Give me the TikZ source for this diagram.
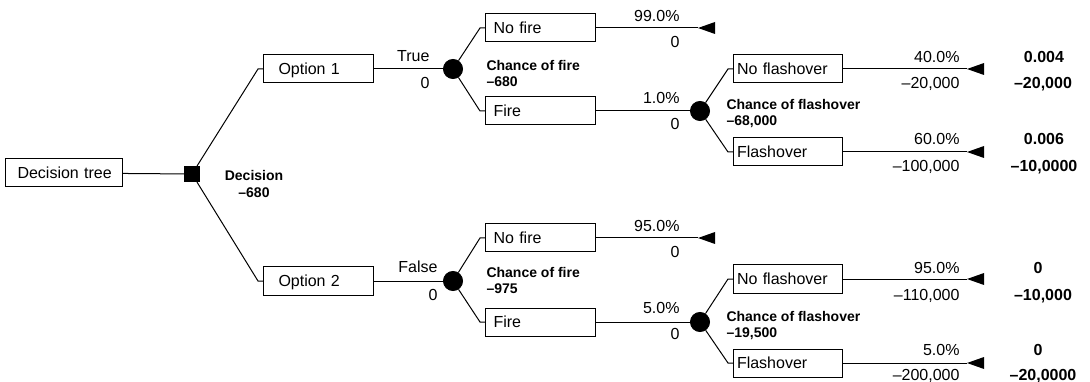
\documentclass[tikz,border=0pt]{standalone}
\usepackage{fontspec}
\setmainfont{Liberation Sans}
\begin{document}
\begin{tikzpicture}[x=1pt,y=-1pt,line width=1pt,
  every node/.style={inner sep=0pt,font=\fontsize{16}{18}\selectfont},
  box/.style={draw,rectangle,anchor=west,align=left,minimum height=28pt,
    text height=11.5pt,text depth=0pt},
  decisionbox/.style={draw,fill=black,rectangle,minimum size=15pt},
  chance/.style={draw,fill=black,circle,minimum size=19pt},
  rlab/.style={anchor=base east,yshift=-5.7pt},
  val/.style={anchor=base,yshift=-5.7pt,font=\fontsize{16}{18}\selectfont\bfseries},
  info/.style={anchor=north west,align=left,font=\fontsize{14}{16}\selectfont\bfseries},
  endtip/.style={fill=black}]
\useasboundingbox (0,0) rectangle (1090,382);

% root and decision
\node[box,inner xsep=12pt,text width=93pt] (dt) at (5,173) {Decision~tree};
\node[decisionbox] (dec) at (192,174) {};
\node[anchor=north,align=center,font=\fontsize{14}{17}\selectfont\bfseries] (decl) at (254,169.5) {Decision\\–680};

% options
\node[box,inner xsep=15pt,text width=80pt] (o1) at (263,69) {Option~1};
\node[box,inner xsep=15pt,text width=80pt] (o2) at (263,281) {Option~2};
\draw (dt) -- (dec);
\draw (dec) -- ([xshift=-5pt]o1.west) -- (o1.west);
\draw (dec) -- ([xshift=-5pt]o2.west) -- (o2.west);

% chance of fire nodes
\node[chance] (c1) at (453,69) {};
\node[chance] (c2) at (453,281) {};
\draw (o1.east) -- (c1);
\draw (o2.east) -- (c2);
\node[rlab] (t1) at (430,56) {True};
\node[rlab] (t1v) at (430,83) {0};
\node[rlab] (t2) at (438,267) {False};
\node[rlab] (t2v) at (438,295) {0};
\node[info] (cf1) at (486,60) {Chance of fire\\–680};
\node[info] (cf2) at (486,267) {Chance of fire\\–975};

% fire outcomes
\node[box,inner xsep=8pt,text width=94pt] (nf1) at (485,28) {No~fire};
\node[box,inner xsep=8pt,text width=94pt] (f1) at (485,111) {Fire};
\node[box,inner xsep=8pt,text width=94pt] (nf2) at (485,238) {No~fire};
\node[box,inner xsep=8pt,text width=94pt] (f2) at (485,322) {Fire};
\foreach \c/\b in {c1/nf1,c1/f1,c2/nf2,c2/f2}
  \draw (\c) -- ([xshift=-5pt]\b.west) -- (\b.west);

% terminal points after "No fire"
\coordinate (e1) at (698,28);
\coordinate (e2) at (698,238);
\foreach \e in {e1,e2}
  \fill[endtip] (\e) -- ++(17,-6) -- ++(0,12) -- cycle;
\draw (nf1.east) -- (e1);
\draw (nf2.east) -- (e2);
\node[rlab] (p1) at (680,16) {99.0\%};
\node[rlab] (p1v) at (680,42) {0};
\node[rlab] (p2) at (680,98) {1.0\%};
\node[rlab] (p2v) at (680,124) {0};
\node[rlab] (p3) at (680,226) {95.0\%};
\node[rlab] (p3v) at (680,252) {0};
\node[rlab] (p4) at (680,308) {5.0\%};
\node[rlab] (p4v) at (680,334) {0};

% chance of flashover nodes
\node[chance] (fc1) at (700,111) {};
\node[chance] (fc2) at (700,322) {};
\draw (f1.east) -- (fc1);
\draw (f2.east) -- (fc2);
\node[info] (cfo1) at (726,99) {Chance of flashover\\–68,000};
\node[info] (cfo2) at (726,311) {Chance of flashover\\–19,500};

% flashover outcomes
\node[box,inner xsep=3.5pt,text width=102pt] (nfo1) at (733,69) {No~flashover};
\node[box,inner xsep=3.5pt,text width=102pt] (fo1) at (733,152) {Flashover};
\node[box,inner xsep=3.5pt,text width=102pt] (nfo2) at (733,279) {No~flashover};
\node[box,inner xsep=3.5pt,text width=102pt] (fo2) at (733,363) {Flashover};
\foreach \c/\b in {fc1/nfo1,fc1/fo1,fc2/nfo2,fc2/fo2}
  \draw (\c) -- ([xshift=-5pt]\b.west) -- (\b.west);

% terminal points after flashover outcomes
\coordinate (e3) at (967,69);
\coordinate (e4) at (967,152);
\coordinate (e5) at (967,279);
\coordinate (e6) at (967,363);
\foreach \e in {e3,e4,e5,e6}
  \fill[endtip] (\e) -- ++(17,-6) -- ++(0,12) -- cycle;
\draw (nfo1.east) -- (e3);
\draw (fo1.east) -- (e4);
\draw (nfo2.east) -- (e5);
\draw (fo2.east) -- (e6);

\node[rlab] (q1) at (960,57) {40.0\%};
\node[rlab] (q1v) at (960,83) {–20,000};
\node[rlab] (q2) at (960,139) {60.0\%};
\node[rlab] (q2v) at (960,166) {–100,000};
\node[rlab] (q3) at (960,268) {95.0\%};
\node[rlab] (q3v) at (960,295) {–110,000};
\node[rlab] (q4) at (960,350) {5.0\%};
\node[rlab] (q4v) at (960,375) {–200,000};

% path probabilities and payoffs
\node[val] (r1) at (1044,57) {0.004};
\node[val] (r1v) at (1043,83) {–20,000};
\node[val] (r2) at (1044,139) {0.006};
\node[val] (r2v) at (1044,166) {–10,0000};
\node[val] (r3) at (1038,268) {0};
\node[val] (r3v) at (1043,295) {–10,000};
\node[val] (r4) at (1038,350) {0};
\node[val] (r4v) at (1043,375) {–20,0000};
\end{tikzpicture}
\end{document}
